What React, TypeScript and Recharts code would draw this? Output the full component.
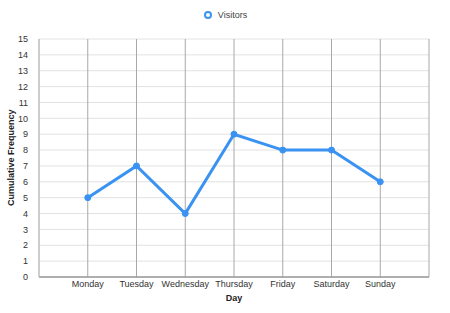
import React from "react";
import { LineChart, Line, XAxis, YAxis, CartesianGrid, Legend } from "recharts";

const days = ["Monday", "Tuesday", "Wednesday", "Thursday", "Friday", "Saturday", "Sunday"];
const visitors = [5, 7, 4, 9, 8, 8, 6];
const yTicks = [0, 1, 2, 3, 4, 5, 6, 7, 8, 9, 10, 11, 12, 13, 14, 15];

const data = days.map((d, i) => ({ day: d, Visitors: visitors[i] }));

const FONT = "'Liberation Sans', Arial, Helvetica, sans-serif";
const BLUE = "#3a92f2";

const LegendContent = () => (
  <div style={{ display: "flex", justifyContent: "center", alignItems: "center", fontFamily: FONT, fontSize: 9, color: "#444", height: 14 }}>
    <svg width={10} height={10} style={{ marginRight: 5 }}>
      <circle cx={5} cy={5} r={3} fill="#fff" stroke={BLUE} strokeWidth={2} />
    </svg>
    <span>Visitors</span>
  </div>
);

export default function App() {
  return (
    <div style={{ position: "absolute", left: 0, top: 0, background: "#fff" }}>
      <LineChart width={450} height={313} data={data} margin={{ top: 25, right: 21, bottom: 0, left: 0 }}>
        <CartesianGrid horizontal={true} vertical={false} stroke="#e2e2e2" strokeWidth={1} />
        <CartesianGrid horizontal={false} vertical={true} stroke="#a8a8a8" strokeWidth={1} />
        <Legend
          verticalAlign="top"
          align="center"
          content={<LegendContent />}
          wrapperStyle={{ position: "absolute", top: 8, left: 0, width: 450, height: 14 }}
        />
        <XAxis
          dataKey="day"
          padding={{ left: 48.75, right: 48.75 }}
          tick={{ fontSize: 9, fill: "#333", fontFamily: FONT }}
          tickLine={false}
          tickSize={4}
          axisLine={{ stroke: "#999", strokeWidth: 1.5 }}
          tickMargin={0}
          height={36}
          interval={0}
          label={{ value: "Day", position: "insideBottom", offset: 12, fontSize: 9, fontWeight: "bold", fill: "#222", fontFamily: FONT }}
        />
        <YAxis
          domain={[0, 15]}
          ticks={yTicks}
          interval={0}
          tick={{ fontSize: 9, fill: "#333", fontFamily: FONT }}
          tickLine={false}
          axisLine={{ stroke: "#c8c8c8", strokeWidth: 1 }}
          width={39}
          tickMargin={5}
          label={{ value: "Cumulative Frequency", angle: -90, position: "insideLeft", offset: 11, dy: 48, fontSize: 9, fontWeight: "bold", fill: "#222", fontFamily: FONT }}
        />
        <YAxis yAxisId="r" orientation="right" width={0} tick={false} axisLine={{ stroke: "#c8c8c8" }} tickLine={false} />
        <Line
          type="linear"
          dataKey="Visitors"
          stroke={BLUE}
          strokeWidth={3}
          dot={{ r: 3, fill: BLUE, stroke: BLUE, strokeWidth: 1 }}
          isAnimationActive={false}
        />
      </LineChart>
    </div>
  );
}
